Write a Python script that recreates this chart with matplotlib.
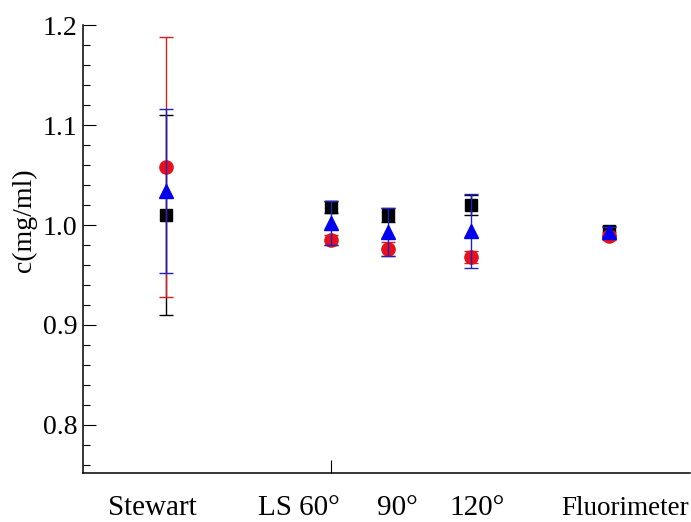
import numpy as np
import matplotlib
matplotlib.use("Agg")
from matplotlib import pyplot as plt
from matplotlib.ticker import MultipleLocator, FixedLocator, NullFormatter

# x positions of the five methods (data units)
x_pos = [1.0, 3.0, 3.69, 4.70, 6.37]
# label positions / text along the bottom
label_pos = [0.84, 2.61, 3.80, 4.77, 6.56]
labels = ["Stewart", "LS 60°", "90°", "120°", "Fluorimeter"]
label_sizes = [21, 21, 21, 21, 19.5]

# three series (value, error)
black_y = [1.010, 1.018, 1.010, 1.020, 0.994]
black_err = [0.100, 0.006, 0.007, 0.010, 0.005]
red_y = [1.058, 0.985, 0.976, 0.968, 0.989]
red_err = [0.130, 0.005, 0.007, 0.006, 0.004]
blue_y = [1.034, 1.002, 0.993, 0.994, 0.993]
blue_err = [0.082, 0.022, 0.024, 0.037, 0.005]

plt.rcParams['font.family'] = ['Liberation Serif', 'DejaVu Serif']

fig = plt.figure(figsize=(6.91, 5.22), dpi=100)
ax = fig.add_axes([0.120, 0.094, 0.879, 0.858])

ax.errorbar(x_pos, black_y, yerr=black_err, fmt='s', color='black',
            markersize=8.5, capsize=5, elinewidth=1, capthick=1, zorder=2)
ax.errorbar(x_pos, red_y, yerr=red_err, fmt='o', color='#e8101a',
            ecolor='#d02020', markersize=9.5, capsize=5, elinewidth=1,
            capthick=1, zorder=3)
ax.errorbar(x_pos, blue_y, yerr=blue_err, fmt='^', color='#0000ee',
            ecolor='#2020c0', markersize=9.5, capsize=5, elinewidth=1,
            capthick=1, zorder=4)

ax.set_xlim(0, 7.35)
ax.set_ylim(0.752, 1.2)

ax.spines['top'].set_visible(False)
ax.spines['right'].set_visible(False)
ax.spines['left'].set_linewidth(1.1)
ax.spines['bottom'].set_linewidth(1.1)

# y axis ticks pointing in
ax.yaxis.set_major_locator(MultipleLocator(0.1))
ax.yaxis.set_minor_locator(MultipleLocator(0.02))
ax.yaxis.set_major_formatter(plt.FormatStrFormatter('%.1f'))
ax.tick_params(axis='y', which='major', direction='in', length=9.5, width=0.8,
               labelsize=20, pad=4)
ax.tick_params(axis='y', which='minor', direction='in', length=5, width=0.8)

# x axis: no tick labels, one tick mark at LS 60
ax.xaxis.set_major_locator(FixedLocator([3.0]))
ax.xaxis.set_major_formatter(NullFormatter())
ax.tick_params(axis='x', which='major', direction='in', length=9.5, width=0.8)

# category names under the axis
for xp, txt, fs in zip(label_pos, labels, label_sizes):
    ax.text(xp, -0.094, txt, transform=ax.get_xaxis_transform(),
            ha='center', va='baseline', fontsize=fs, clip_on=False)

ax.set_ylabel('c(mg/ml)', fontsize=20)
ax.yaxis.set_label_coords(-0.076, 0.565)

fig.savefig('out.png', dpi=100)
